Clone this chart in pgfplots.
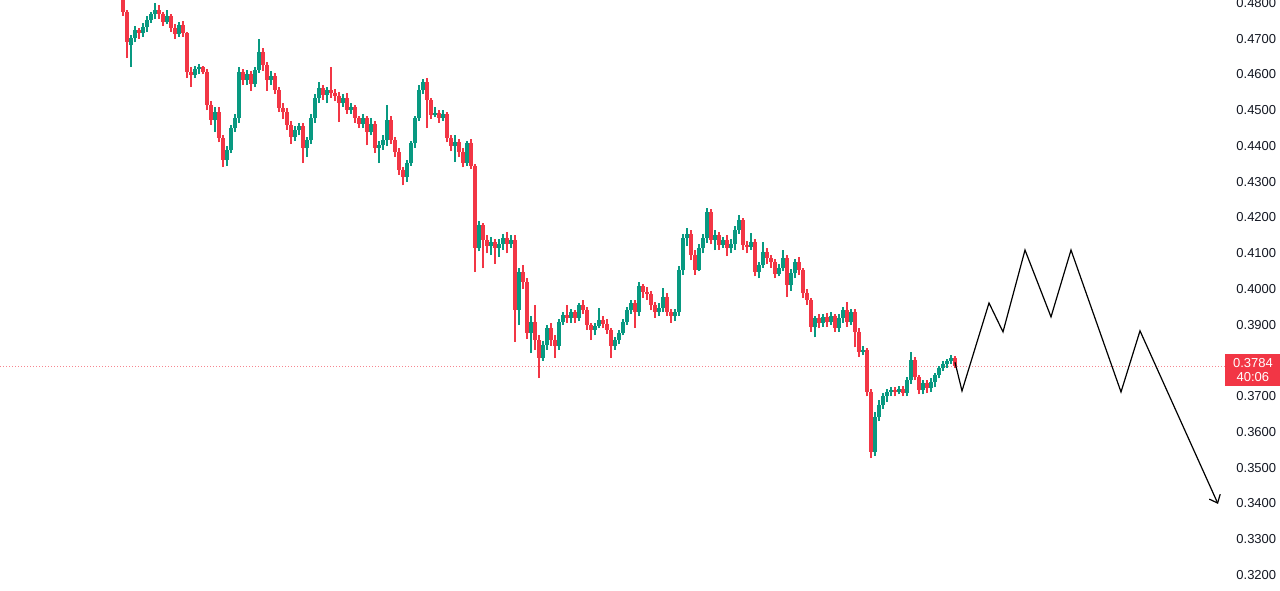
\documentclass[border=0pt]{standalone}
\usepackage{fontspec}
\setmainfont{Liberation Sans}
\usepackage{pgfplots}
\usepackage{pgfplotstable}
\pgfplotsset{compat=1.18}
\usetikzlibrary{arrows.meta}
\definecolor{tvgreen}{HTML}{089981}
\definecolor{tvred}{HTML}{F23645}
\definecolor{tvtext}{HTML}{131722}
% candles, one row each, x = 123 + 4*index (px units)
\pgfplotstableread{
o h l c
0.4836 0.4850 0.4765 0.4774
0.4774 0.4780 0.4646 0.4691
0.4682 0.4710 0.4621 0.4702
0.4702 0.4735 0.4690 0.4724
0.4724 0.4730 0.4700 0.4716
0.4716 0.4745 0.4705 0.4733
0.4733 0.4765 0.4720 0.4752
0.4752 0.4776 0.4745 0.4769
0.4769 0.4800 0.4755 0.4780
0.4780 0.4795 0.4755 0.4769
0.4769 0.4775 0.4735 0.4746
0.4746 0.4780 0.4740 0.4763
0.4763 0.4770 0.4720 0.4730
0.4730 0.4740 0.4700 0.4713
0.4713 0.4748 0.4705 0.4738
0.4738 0.4750 0.4705 0.4716
0.4716 0.4720 0.4590 0.4607
0.4607 0.4620 0.4565 0.4598
0.4598 0.4625 0.4590 0.4615
0.4615 0.4630 0.4600 0.4621
0.4621 0.4625 0.4600 0.4607
0.4607 0.4615 0.4500 0.4514
0.4514 0.4525 0.4460 0.4472
0.4472 0.4510 0.4440 0.4495
0.4495 0.4510 0.4410 0.4422
0.4422 0.4430 0.4341 0.4360
0.4360 0.4400 0.4345 0.4388
0.4388 0.4460 0.4380 0.4450
0.4450 0.4490 0.4440 0.4478
0.4478 0.4620 0.4465 0.4607
0.4607 0.4615 0.4570 0.4584
0.4584 0.4612 0.4570 0.4601
0.4601 0.4610 0.4555 0.4573
0.4573 0.4620 0.4565 0.4612
0.4612 0.4699 0.4605 0.4663
0.4663 0.4675 0.4610 0.4626
0.4626 0.4635 0.4555 0.4584
0.4584 0.4610 0.4570 0.4595
0.4595 0.4605 0.4545 0.4556
0.4556 0.4565 0.4495 0.4506
0.4506 0.4520 0.4475 0.4495
0.4495 0.4505 0.4445 0.4458
0.4458 0.4470 0.4405 0.4425
0.4425 0.4455 0.4415 0.4444
0.4444 0.4465 0.4430 0.4456
0.4456 0.4465 0.4352 0.4394
0.4394 0.4425 0.4370 0.4416
0.4416 0.4490 0.4405 0.4478
0.4478 0.4545 0.4465 0.4534
0.4534 0.4579 0.4520 0.4562
0.4562 0.4570 0.4530 0.4542
0.4542 0.4565 0.4520 0.4556
0.4556 0.4621 0.4535 0.4548
0.4548 0.4560 0.4525 0.4540
0.4540 0.4550 0.4467 0.4520
0.4520 0.4545 0.4510 0.4534
0.4534 0.4548 0.4490 0.4500
0.4500 0.4520 0.4490 0.4509
0.4509 0.4515 0.4465 0.4478
0.4478 0.4485 0.4450 0.4461
0.4461 0.4490 0.4450 0.4478
0.4478 0.4485 0.4402 0.4439
0.4439 0.4478 0.4430 0.4461
0.4461 0.4470 0.4380 0.4394
0.4394 0.4415 0.4352 0.4402
0.4402 0.4430 0.4390 0.4416
0.4416 0.4514 0.4400 0.4472
0.4472 0.4485 0.4405 0.4416
0.4416 0.4425 0.4370 0.4383
0.4383 0.4395 0.4320 0.4333
0.4333 0.4340 0.4290 0.4313
0.4313 0.4360 0.4300 0.4352
0.4352 0.4415 0.4345 0.4408
0.4408 0.4485 0.4395 0.4478
0.4478 0.4570 0.4470 0.4556
0.4556 0.4587 0.4545 0.4579
0.4579 0.4590 0.4450 0.4528
0.4528 0.4535 0.4475 0.4486
0.4486 0.4510 0.4480 0.4492
0.4492 0.4500 0.4465 0.4478
0.4478 0.4500 0.4470 0.4489
0.4489 0.4495 0.4410 0.4422
0.4422 0.4430 0.4385 0.4400
0.4400 0.4430 0.4355 0.4411
0.4411 0.4420 0.4370 0.4383
0.4383 0.4395 0.4340 0.4352
0.4352 0.4415 0.4345 0.4408
0.4408 0.4420 0.4335 0.4344
0.4344 0.4350 0.4047 0.4114
0.4114 0.4190 0.4105 0.4179
0.4179 0.4185 0.4058 0.4137
0.4137 0.4150 0.4100 0.4120
0.4120 0.4145 0.4095 0.4131
0.4131 0.4140 0.4070 0.4114
0.4114 0.4140 0.4090 0.4126
0.4126 0.4155 0.4110 0.4142
0.4142 0.4160 0.4100 0.4126
0.4126 0.4151 0.4115 0.4137
0.4137 0.4150 0.3852 0.3941
0.3941 0.4060 0.3899 0.4047
0.4047 0.4067 0.4000 0.4019
0.4019 0.4030 0.3860 0.3877
0.3877 0.3925 0.3821 0.3907
0.3907 0.3955 0.3830 0.3857
0.3857 0.3870 0.3751 0.3807
0.3807 0.3855 0.3800 0.3843
0.3843 0.3900 0.3830 0.3891
0.3891 0.3905 0.3840 0.3857
0.3857 0.3870 0.3807 0.3840
0.3840 0.3915 0.3830 0.3907
0.3907 0.3935 0.3900 0.3927
0.3927 0.3955 0.3905 0.3919
0.3919 0.3945 0.3905 0.3935
0.3935 0.3940 0.3905 0.3919
0.3919 0.3962 0.3910 0.3955
0.3955 0.3969 0.3930 0.3941
0.3941 0.3950 0.3885 0.3899
0.3899 0.3905 0.3857 0.3885
0.3885 0.3905 0.3870 0.3896
0.3896 0.3947 0.3890 0.3913
0.3913 0.3925 0.3890 0.3902
0.3902 0.3915 0.3875 0.3885
0.3885 0.3890 0.3807 0.3840
0.3840 0.3865 0.3830 0.3857
0.3857 0.3885 0.3845 0.3877
0.3877 0.3915 0.3870 0.3907
0.3907 0.3950 0.3900 0.3941
0.3941 0.3970 0.3930 0.3961
0.3961 0.3970 0.3891 0.3935
0.3935 0.4019 0.3925 0.4008
0.4008 0.4015 0.3975 0.3991
0.3991 0.4005 0.3970 0.3986
0.3986 0.3995 0.3940 0.3955
0.3955 0.3965 0.3920 0.3935
0.3935 0.3960 0.3925 0.3947
0.3947 0.4002 0.3935 0.3977
0.3977 0.3990 0.3925 0.3935
0.3935 0.3945 0.3905 0.3924
0.3924 0.3945 0.3910 0.3935
0.3935 0.4065 0.3925 0.4053
0.4053 0.4155 0.4040 0.4142
0.4142 0.4170 0.4120 0.4154
0.4154 0.4165 0.4080 0.4095
0.4095 0.4110 0.4040 0.4053
0.4053 0.4125 0.4050 0.4114
0.4114 0.4155 0.4100 0.4142
0.4142 0.4226 0.4130 0.4215
0.4215 0.4225 0.4125 0.4137
0.4137 0.4165 0.4109 0.4151
0.4151 0.4160 0.4110 0.4123
0.4123 0.4145 0.4115 0.4137
0.4137 0.4150 0.4092 0.4114
0.4114 0.4140 0.4100 0.4126
0.4126 0.4175 0.4110 0.4165
0.4165 0.4207 0.4155 0.4193
0.4193 0.4200 0.4110 0.4123
0.4123 0.4135 0.4100 0.4117
0.4117 0.4156 0.4110 0.4131
0.4131 0.4140 0.4035 0.4047
0.4047 0.4075 0.4030 0.4067
0.4067 0.4131 0.4060 0.4103
0.4103 0.4115 0.4070 0.4086
0.4086 0.4095 0.4060 0.4075
0.4075 0.4085 0.4030 0.4042
0.4042 0.4070 0.4035 0.4058
0.4058 0.4109 0.4050 0.4086
0.4086 0.4095 0.3977 0.4011
0.4011 0.4055 0.3995 0.4044
0.4044 0.4085 0.4030 0.4075
0.4075 0.4090 0.4040 0.4053
0.4053 0.4060 0.3975 0.3989
0.3989 0.4000 0.3955 0.3969
0.3969 0.3975 0.3880 0.3893
0.3893 0.3925 0.3865 0.3919
0.3919 0.3930 0.3890 0.3905
0.3905 0.3930 0.3895 0.3921
0.3921 0.3932 0.3895 0.3907
0.3907 0.3935 0.3900 0.3924
0.3924 0.3930 0.3880 0.3891
0.3891 0.3930 0.3880 0.3919
0.3919 0.3950 0.3905 0.3941
0.3941 0.3963 0.3895 0.3907
0.3907 0.3945 0.3900 0.3935
0.3935 0.3945 0.3837 0.3880
0.3880 0.3890 0.3810 0.3824
0.3824 0.3840 0.3815 0.3829
0.3829 0.3835 0.3700 0.3712
0.3712 0.3720 0.3527 0.3544
0.3544 0.3655 0.3533 0.3642
0.3642 0.3690 0.3630 0.3675
0.3675 0.3710 0.3665 0.3700
0.3700 0.3720 0.3685 0.3712
0.3712 0.3725 0.3700 0.3717
0.3717 0.3725 0.3700 0.3712
0.3712 0.3728 0.3705 0.3720
0.3720 0.3730 0.3700 0.3709
0.3709 0.3755 0.3700 0.3745
0.3745 0.3824 0.3735 0.3801
0.3801 0.3810 0.3745 0.3754
0.3754 0.3760 0.3705 0.3717
0.3717 0.3745 0.3705 0.3737
0.3737 0.3745 0.3710 0.3723
0.3723 0.3750 0.3712 0.3740
0.3740 0.3765 0.3725 0.3759
0.3759 0.3785 0.3750 0.3779
0.3779 0.3800 0.3770 0.3790
0.3790 0.3805 0.3780 0.3798
0.3798 0.3815 0.3790 0.3807
0.3807 0.3812 0.3780 0.3784
}\candles
\begin{document}
\begin{tikzpicture}
\useasboundingbox (0,0) rectangle (640pt,295pt);
\clip (0,0) rectangle (640pt,295pt);
\begin{axis}[
  at={(0,0)}, anchor=south west,
  width=614pt, height=295pt, scale only axis,
  xmin=0, xmax=1228, ymin=0.31581, ymax=0.48084,
  axis x line=none, axis y line*=right,
  y axis line style={draw=none},
  xtick=\empty,
  ytick={0.32,0.33,0.34,0.35,0.36,0.37,0.38,0.39,0.40,0.41,0.42,0.43,0.44,0.45,0.46,0.47,0.48},
  ytick style={draw=none},
  yticklabel style={font=\fontsize{6.5}{7}\selectfont, text=tvtext, anchor=west, inner sep=0pt, xshift=4pt,
    /pgf/number format/.cd, fixed, fixed zerofill, precision=4, assume math mode=true},
  clip=false,
]
% last price line
\addplot[tvred!60, line width=0.45pt, dash pattern=on 0.5pt off 1pt] coordinates {(0,0.3784) (1225,0.3784)};
% wicks
\addplot[tvgreen, line width=0.55pt, line cap=butt,
  quiver={u=0, v={(\thisrow{c}>=\thisrow{o})*(\thisrow{h}-\thisrow{l})}}]
  table[x expr=123+4*\coordindex, y=l] {\candles};
\addplot[tvred, line width=0.55pt, line cap=butt,
  quiver={u=0, v={(\thisrow{c}<\thisrow{o})*(\thisrow{h}-\thisrow{l})}}]
  table[x expr=123+4*\coordindex, y=l] {\candles};
% bodies
\addplot[tvgreen, line width=1.6pt, line cap=butt,
  quiver={u=0, v={max(\thisrow{c}-\thisrow{o},0)}}]
  table[x expr=123+4*\coordindex, y=o] {\candles};
\addplot[tvred, line width=1.6pt, line cap=butt,
  quiver={u=0, v={min(\thisrow{c}-\thisrow{o},0)}}]
  table[x expr=123+4*\coordindex, y=o] {\candles};
% projected path
\addplot[black, line width=0.6pt, sharp plot, -{Straight Barb[length=3.5pt,width=6pt]}] coordinates {
  (955,0.3795) (962,0.3715) (989,0.3961) (1003,0.3880) (1025,0.4109)
  (1051,0.3922) (1071,0.4109) (1121,0.3712) (1140,0.3883) (1218,0.3399)};
\coordinate (pricebox) at (axis cs:1225,0.3773);
\end{axis}
\node[fill=tvred, text=white, anchor=west, minimum width=27.5pt, minimum height=16pt,
  inner sep=0pt, align=center, font=\fontsize{6.5}{7.2}\selectfont] at (pricebox) {0.3784\\40:06};
\end{tikzpicture}
\end{document}
